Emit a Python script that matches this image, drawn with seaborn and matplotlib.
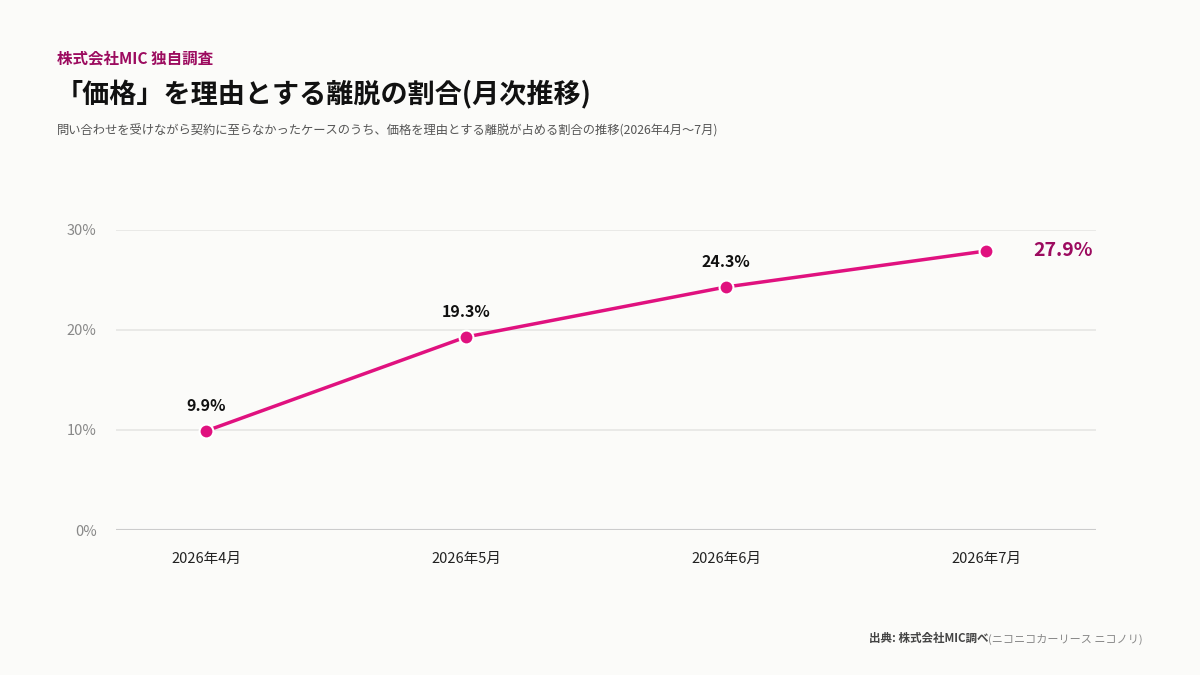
import pandas as pd
import matplotlib.pyplot as plt
import seaborn as sns

months = ['2026年4月', '2026年5月', '2026年6月', '2026年7月']
rates = [9.9, 19.3, 24.3, 27.9]
y_ticks = [0, 10, 20, 30]

header = '株式会社MIC 独自調査'
title = '「価格」を理由とする離脱の割合(月次推移)'
subtitle = '問い合わせを受けながら契約に至らなかったケースのうち、価格を理由とする離脱が占める割合の推移(2026年4月～7月)'
source_bold = '出典: 株式会社MIC調べ'
source_rest = '(ニコニコカーリース ニコノリ)'

bg = '#fbfbf9'
pink = '#e0117f'
dark_pink = '#9c0b5f'

sns.set_theme(style='white')
plt.rcParams['font.family'] = ['Noto Sans CJK JP', 'DejaVu Sans']

df = pd.DataFrame({'month': months, 'rate': rates})

fig = plt.figure(figsize=(12, 6.75), dpi=100, facecolor=bg)
ax = fig.add_axes([0.0967, 0.2148, 0.8166, 0.4445], facecolor=bg)

sns.lineplot(data=df, x='month', y='rate', ax=ax, color=pink, linewidth=2.5,
             marker='o', markersize=10, markeredgecolor='white',
             markeredgewidth=1.5, sort=False)

ax.set_ylim(0, 30)
ax.set_xlim(-0.346, 3.423)
ax.set_yticks(y_ticks)
ax.set_yticklabels([f'{v}%' for v in y_ticks])
for v in y_ticks:
    ax.axhline(v, color='#cccccc' if v == 0 else '#e6e6e4', linewidth=1.5 if v == 0 else 1.2, zorder=0)
for s in ax.spines.values():
    s.set_visible(False)
ax.tick_params(axis='y', colors='#888888', labelsize=10.5, length=0, pad=14)
ax.tick_params(axis='x', colors='#222222', labelsize=10.5, length=0, pad=16)
ax.set_xlabel('')
ax.set_ylabel('')

# data labels
for i, v in enumerate(rates[:-1]):
    ax.annotate(f'{v}%', (i, v), xytext=(0, 12), textcoords='offset points',
                ha='center', va='bottom', fontsize=11.5, fontweight='bold', color='#111111')
ax.annotate(f'{rates[-1]}%', (len(rates) - 1, rates[-1]), xytext=(34, 0),
            textcoords='offset points', ha='left', va='center',
            fontsize=14, fontweight='bold', color=dark_pink)

# titles
fig.text(0.0475, 0.913, header, fontsize=11.2, fontweight='bold', color=dark_pink, va='center')
fig.text(0.0465, 0.860, title, fontsize=19.5, fontweight='bold', color='#111111', va='center')
fig.text(0.0475, 0.806, subtitle, fontsize=8.85, color='#555555', va='center')

# source
rest = fig.text(0.9525, 0.045, source_rest, fontsize=8, color='#888888', ha='right', va='bottom')
ax.annotate(source_bold, xy=(0, 0), xycoords=rest, ha='right', va='bottom',
            fontsize=8.3, fontweight='bold', color='#444444', annotation_clip=False)

fig.savefig('out.png', dpi=100, facecolor=bg)
